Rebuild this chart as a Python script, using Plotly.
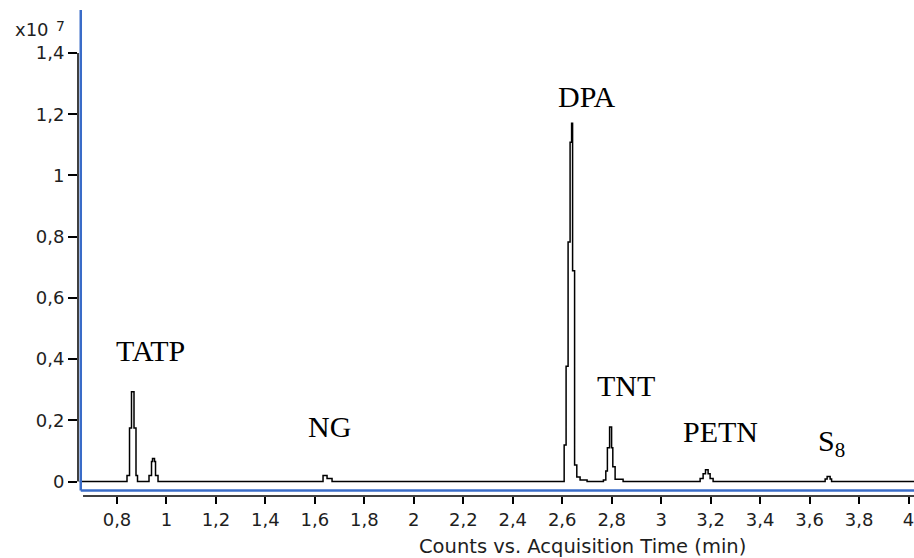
import plotly.graph_objects as go

# Chromatogram (counts in units of 1e7) vs acquisition time (min)
time_min = [0.649,
            0.8404, 0.8506, 0.8586, 0.8687, 0.8768, 0.8829,
            0.9294, 0.9395, 0.9436, 0.9516, 0.9557, 0.9658,
            1.6330, 1.6492, 1.6694,
            2.6078, 2.6156, 2.6237, 2.6318, 2.6379, 2.6419, 2.6500, 2.6589, 2.6722, 2.7005,
            2.7665, 2.7762, 2.7826, 2.7915, 2.7996, 2.8045, 2.8138, 2.8461,
            3.1575, 3.1696, 3.1793, 3.1898, 3.1979, 3.2100,
            3.6629, 3.6710, 3.6831, 3.6890,
            4.03]
counts_e7 = [0.0,
             0.02, 0.175, 0.293, 0.175, 0.02, 0.0,
             0.02, 0.065, 0.075, 0.065, 0.02, 0.0,
             0.02, 0.01, 0.0,
             0.119, 0.377, 0.783, 1.109, 1.171, 0.689, 0.054, 0.015, 0.005, 0.0,
             0.005, 0.034, 0.11, 0.178, 0.11, 0.048, 0.007, 0.0,
             0.01, 0.025, 0.038, 0.025, 0.01, 0.0,
             0.008, 0.016, 0.008, 0.0,
             0.0]

# Peak labels
peak_names = ["TATP", "NG", "DPA", "TNT", "PETN", "S<sub>8</sub>"]
peak_label_x = [0.9355, 1.6573, 2.6985, 2.8582, 3.2384, 3.6872]
peak_label_y = [0.4265, 0.179, 1.258, 0.315, 0.165, 0.125]

# Axis ticks
x_tickvals = [0.8, 1.0, 1.2, 1.4, 1.6, 1.8, 2.0, 2.2, 2.4, 2.6, 2.8, 3.0, 3.2, 3.4, 3.6, 3.8, 4.0]
x_ticktext = ["0,8", "1", "1,2", "1,4", "1,6", "1,8", "2", "2,2", "2,4", "2,6", "2,8",
              "3", "3,2", "3,4", "3,6", "3,8", "4"]
y_tickvals = [0.0, 0.2, 0.4, 0.6, 0.8, 1.0, 1.2, 1.4]
y_ticktext = ["0", "0,2", "0,4", "0,6", "0,8", "1", "1,2", "1,4"]

BLUE = "#3a6cc8"
TICKFONT = dict(family="DejaVu Sans", size=18, color="#1e1e1e")

fig = go.Figure()
fig.add_trace(go.Scatter(
    x=time_min, y=counts_e7, mode="lines",
    line=dict(color="black", width=1.5, shape="hv"),
    showlegend=False, hoverinfo="skip"))

for name, lx, ly in zip(peak_names, peak_label_x, peak_label_y):
    fig.add_annotation(x=lx, y=ly, xref="x", yref="y", text=name, showarrow=False,
                       xanchor="center", yanchor="middle",
                       font=dict(family="Liberation Serif", size=30, color="black"))

# scale factor label "x10 ^7"
fig.add_annotation(x=-0.0778, y=1.0, xref="paper", yref="paper",
                   text="x10", showarrow=False,
                   xanchor="left", yanchor="top", yshift=-7,
                   font=TICKFONT)
fig.add_annotation(x=-0.0292, y=1.0, xref="paper", yref="paper",
                   text="7", showarrow=False,
                   xanchor="left", yanchor="top", yshift=-6,
                   font=dict(family="DejaVu Sans", size=14, color="#1e1e1e"))

# x axis title (offset like reference)
fig.add_annotation(x=0.604, y=0, xref="paper", yref="paper",
                   text="Counts vs. Acquisition Time (min)", showarrow=False,
                   xanchor="center", yanchor="middle", yshift=-50,
                   font=dict(family="DejaVu Sans", size=19.5, color="#1e1e1e"))

# axis decorations: black y axis line over tick span, blue L frame, black x axis line
fig.add_shape(type="line", xref="paper", yref="y", x0=0, x1=0,
              y0=y_tickvals[0], y1=y_tickvals[-1], line=dict(color="black", width=1.5))
fig.add_shape(type="line", xref="paper", yref="paper", x0=0.0033, x1=0.0033,
              y0=0.0113, y1=1.0, line=dict(color=BLUE, width=2.5))
fig.add_shape(type="line", xref="paper", yref="paper", x0=0.0033, x1=1.0,
              y0=0.0113, y1=0.0113, line=dict(color=BLUE, width=2.5))
fig.add_shape(type="line", xref="paper", yref="paper", x0=0.006, x1=1.0,
              y0=0, y1=0, line=dict(color="black", width=1.5))

fig.update_xaxes(range=[0.6423, 4.0222], tickvals=x_tickvals, ticktext=x_ticktext,
                 ticks="outside", ticklen=7, tickwidth=1.5, tickcolor="black",
                 showgrid=False, zeroline=False, showline=False,
                 ticklabeloverflow="allow",
                 tickfont=TICKFONT)
fig.update_yaxes(range=[-0.0474, 1.5408], tickvals=y_tickvals, ticktext=y_ticktext,
                 ticks="outside", ticklen=9, tickwidth=1.5, tickcolor="black",
                 showgrid=False, zeroline=False, showline=False,
                 tickfont=TICKFONT)

fig.update_layout(width=914, height=558,
                  margin=dict(l=78, r=0, t=10, b=62),
                  plot_bgcolor="white", paper_bgcolor="white")

fig.write_html("out.html")
